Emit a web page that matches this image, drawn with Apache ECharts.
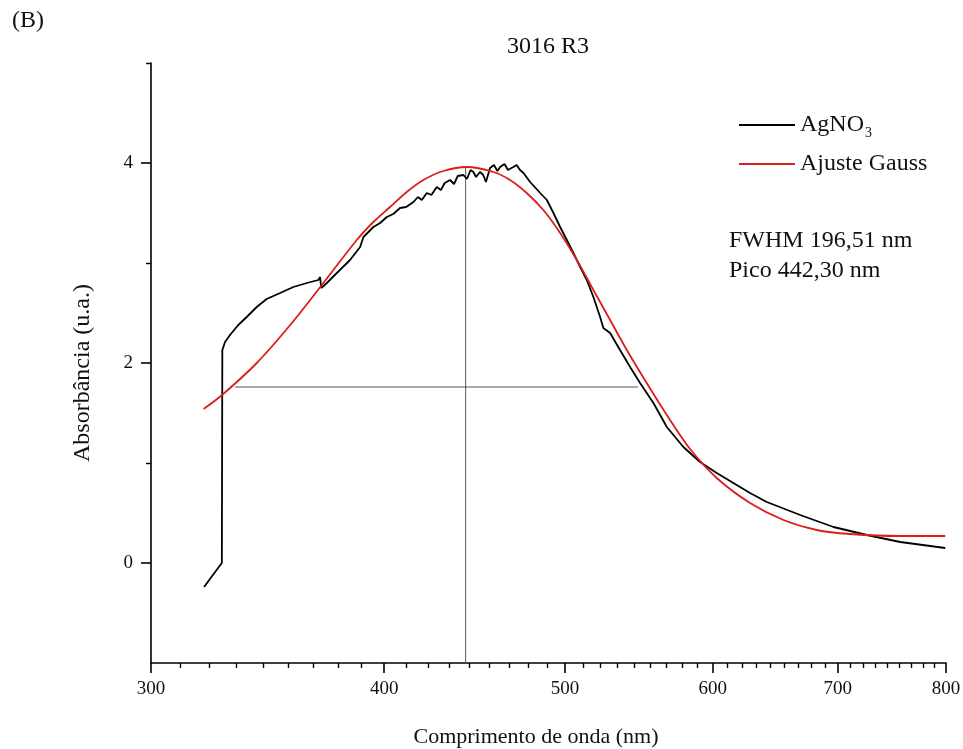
<!DOCTYPE html>
<html>
<head>
<meta charset="utf-8">
<script src="https://cdn.jsdelivr.net/npm/echarts@6/dist/echarts.min.js"></script>
<style>html,body{margin:0;padding:0;background:#fff}#c{width:963px;height:749px}</style>
</head>
<body>
<div id="c"></div>
<script>
// ---- data ----
const agno3X = [320.3, 323.5, 327.4, 327.5, 327.6, 328.7, 330.7, 334.1, 337.6, 341.8, 346.0, 351.8, 357.6, 363.6, 368.8, 369.6, 370.1, 372.7, 377.3, 383.5, 388.3, 389.9, 394.7, 398.0, 401.3, 404.5, 407.9, 411.0, 414.7, 417.0, 419.0, 421.6, 424.0, 426.8, 429.0, 431.0, 433.9, 436.0, 438.0, 441.1, 443.0, 445.0, 446.5, 448.0, 450.2, 452.0, 453.5, 455.8, 458.0, 460.0, 461.5, 464.0, 466.0, 469.1, 471.0, 473.0, 475.0, 478.9, 484.9, 488.9, 492.9, 497.0, 501.1, 505.2, 509.4, 513.6, 517.8, 522.1, 524.2, 528.6, 535.1, 541.8, 548.5, 557.6, 566.9, 578.6, 590.6, 602.9, 615.4, 628.2, 641.3, 668.3, 696.3, 725.6, 756.1, 799.3];
const agno3Y = [-0.24, -0.13, 0.00, 1.06, 2.13, 2.21, 2.28, 2.38, 2.46, 2.56, 2.64, 2.70, 2.76, 2.80, 2.83, 2.86, 2.75, 2.80, 2.90, 3.03, 3.16, 3.26, 3.36, 3.40, 3.46, 3.49, 3.55, 3.56, 3.61, 3.66, 3.63, 3.70, 3.68, 3.76, 3.73, 3.80, 3.83, 3.79, 3.87, 3.88, 3.84, 3.93, 3.91, 3.86, 3.91, 3.88, 3.81, 3.95, 3.98, 3.92, 3.96, 3.99, 3.93, 3.96, 3.98, 3.93, 3.90, 3.81, 3.70, 3.63, 3.50, 3.36, 3.23, 3.10, 2.96, 2.83, 2.66, 2.46, 2.35, 2.30, 2.13, 1.96, 1.80, 1.60, 1.36, 1.16, 1.01, 0.90, 0.80, 0.70, 0.61, 0.48, 0.36, 0.28, 0.21, 0.15];

const gaussX = [320.1, 327.5, 341.8, 356.2, 371.1, 386.7, 394.7, 402.9, 411.3, 419.8, 430.3, 442.9, 457.7, 467.2, 476.9, 486.8, 497.0, 507.3, 517.8, 528.6, 539.6, 553.0, 566.9, 583.4, 602.9, 628.2, 654.6, 682.1, 710.8, 756.1, 799.3];
const gaussY = [1.54, 1.68, 2.00, 2.38, 2.80, 3.23, 3.41, 3.56, 3.71, 3.83, 3.92, 3.96, 3.91, 3.83, 3.70, 3.53, 3.30, 3.03, 2.73, 2.43, 2.13, 1.80, 1.48, 1.14, 0.85, 0.60, 0.43, 0.33, 0.29, 0.27, 0.27];

const peakLineX = [442.3, 442.3];
const peakLineY = [-1, 3.96];
const halfLineX = [332.8, 547.0];
const halfLineY = [1.76, 1.76];

const xMajorTicks = [300, 400, 500, 600, 700, 800];
const xMinorTicks = [];
for (let d = 0; d < 5; d++) { for (let k = 1; k <= 8; k++) { xMinorTicks.push(300 + d * 100 + k * 100 / 9); } }
const yMajorTicks = [0, 2, 4];
const yMinorTicks = [1, 3, 5];

const seriesNames = ['AgNO3', 'Ajuste Gauss'];
const titleText = '3016 R3';
const panelLabel = '(B)';
const infoLines = ['FWHM 196,51 nm', 'Pico 442,30 nm'];
const xName = 'Comprimento de onda (nm)';
const yName = 'Absorbância (u.a.)';

const zip = (a, b) => a.map((v, i) => [v, b[i]]);
const FONT = '"Liberation Serif", "Times New Roman", serif';

const chart = echarts.init(document.getElementById('c'), null, { renderer: 'canvas' });
const axisCommonX = { type: 'log', logBase: 10, min: 300, max: 800, splitLine: { show: false }, minorTick: { show: false } };
const axisCommonY = { type: 'value', min: -1, max: 5, splitLine: { show: false } };
chart.setOption({
  animation: false,
  backgroundColor: '#fff',
  grid: { left: 151, right: 17, top: 63, bottom: 86, containLabel: false, outerBoundsMode: 'none' },
  xAxis: [
    Object.assign({}, axisCommonX, {
      position: 'bottom',
      name: xName, nameLocation: 'middle', nameGap: 63,
      nameTextStyle: { fontFamily: FONT, fontSize: 22, color: '#111', padding: [0, 25, 0, 0] },
      axisLine: { show: true, onZero: false, lineStyle: { color: '#000', width: 1.6 } },
      axisTick: { show: true, length: 10, lineStyle: { color: '#000', width: 1.6 }, customValues: xMajorTicks },
      axisLabel: { show: true, customValues: xMajorTicks, margin: 17, fontFamily: FONT, fontSize: 19, color: '#111', formatter: v => String(Math.round(v)) }
    }),
    Object.assign({}, axisCommonX, {
      position: 'bottom',
      axisLine: { show: false, onZero: false },
      axisTick: { show: true, length: 5, lineStyle: { color: '#000', width: 1.4 }, customValues: xMinorTicks },
      axisLabel: { show: false }
    })
  ],
  yAxis: [
    Object.assign({}, axisCommonY, {
      position: 'left',
      name: yName, nameLocation: 'middle', nameGap: 56, nameRotate: 90,
      nameTextStyle: { fontFamily: FONT, fontSize: 24, color: '#111', padding: [0, 20, 0, 0] },
      axisLine: { show: true, onZero: false, lineStyle: { color: '#000', width: 1.6 } },
      axisTick: { show: true, length: 10, lineStyle: { color: '#000', width: 1.6 }, customValues: yMajorTicks },
      axisLabel: { show: true, customValues: yMajorTicks, margin: 18, fontFamily: FONT, fontSize: 19, color: '#111' }
    }),
    Object.assign({}, axisCommonY, {
      position: 'left',
      axisLine: { show: false, onZero: false },
      axisTick: { show: true, length: 5, lineStyle: { color: '#000', width: 1.4 }, customValues: yMinorTicks },
      axisLabel: { show: false }
    })
  ],
  legend: {
    data: seriesNames,
    orient: 'vertical',
    left: 734, top: 108,
    icon: 'rect',
    itemWidth: 56, itemHeight: 2, itemGap: 12,
    textStyle: {
      fontFamily: FONT, fontSize: 24, color: '#111',
      rich: { sub: { fontFamily: FONT, fontSize: 14, color: '#111', padding: [16, 0, 0, 1] } }
    },
    formatter: n => n === 'AgNO3' ? 'AgNO{sub|3}' : n
  },
  graphic: [
    { type: 'text', x: 12, y: 21, style: { text: panelLabel, font: '24px ' + FONT, fill: '#111', verticalAlign: 'middle' } },
    { type: 'text', x: 548, y: 47, style: { text: titleText, font: '24px ' + FONT, fill: '#111', align: 'center', verticalAlign: 'middle' } },
    { type: 'text', x: 729, y: 241, style: { text: infoLines[0], font: '24px ' + FONT, fill: '#111', verticalAlign: 'middle' } },
    { type: 'text', x: 729, y: 271, style: { text: infoLines[1], font: '24px ' + FONT, fill: '#111', verticalAlign: 'middle' } }
  ],
  series: [
    { name: 'peakLine', type: 'line', data: zip(peakLineX, peakLineY), symbol: 'none', silent: true, lineStyle: { color: '#555', width: 1 }, z: 1 },
    { name: 'halfLine', type: 'line', data: zip(halfLineX, halfLineY), symbol: 'none', silent: true, lineStyle: { color: '#555', width: 1 }, z: 1 },
    { name: seriesNames[0], type: 'line', data: zip(agno3X, agno3Y), symbol: 'none', color: '#000', lineStyle: { color: '#000', width: 1.8 }, z: 3 },
    { name: seriesNames[1], type: 'line', data: zip(gaussX, gaussY), symbol: 'none', smooth: 0.3, color: '#dd1c1c', lineStyle: { color: '#dd1c1c', width: 1.8 }, z: 4 }
  ]
});
</script>
</body>
</html>
